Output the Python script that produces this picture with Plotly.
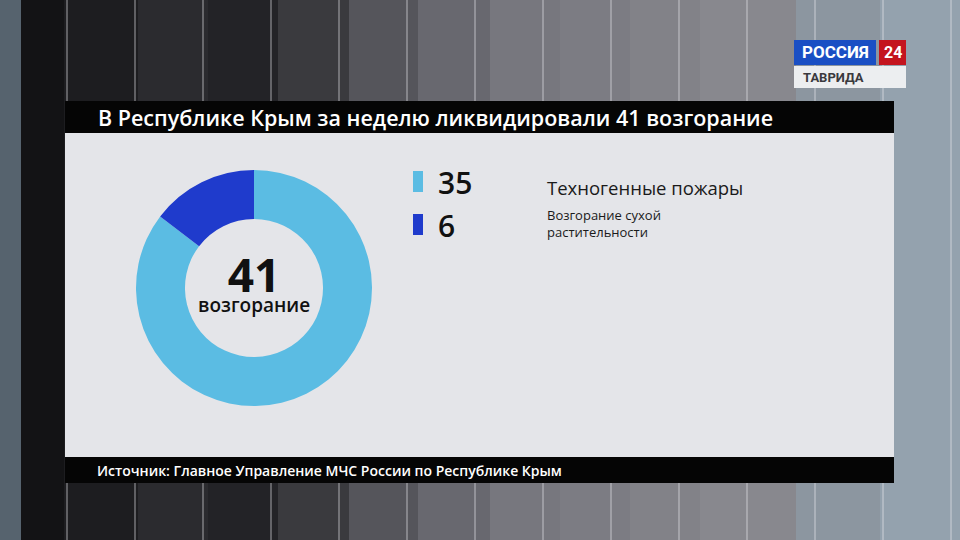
import plotly.graph_objects as go

# ---- data ----
categories = ["Техногенные пожары", "Возгорание сухой растительности"]
values = [35, 6]
colors = ["#5bbce3", "#1f3bcc"]
total = sum(values)
title_text = "В Республике Крым за неделю ликвидировали 41 возгорание"
center_label = "возгорание"
source_text = "Источник: Главное Управление МЧС России по Республике Крым"

W, H = 960, 540
FONT = "Open Sans, Noto Sans, DejaVu Sans, sans-serif"

def px(x):
    return x / W

def py(y):
    return 1 - y / H

shapes = []
annotations = []

# ---- background stripes (decoration) ----
stripes = [
    (0, 21, "#56636e"), (21, 64, "#131315"), (64, 138, "#1d1d20"),
    (138, 208, "#2b2b2f"), (208, 278, "#232327"), (278, 349, "#3a3a3e"),
    (349, 418, "#55555b"), (418, 490, "#68686f"), (490, 560, "#77777e"),
    (560, 630, "#7c7c83"), (630, 700, "#828288"), (700, 796, "#88888e"),
    (796, 880, "#8c96a0"), (880, 960, "#94a2ae"),
]
for x0, x1, c in stripes:
    shapes.append(dict(type="rect", xref="paper", yref="paper", layer="below",
                       x0=px(x0), x1=px(x1), y0=0, y1=1, fillcolor=c, line_width=0))
for i in range(14):
    xl = 67 + 68 * i
    shapes.append(dict(type="line", xref="paper", yref="paper", layer="below",
                       x0=px(xl), x1=px(xl), y0=0, y1=1,
                       line=dict(color="rgba(235,235,240,0.55)", width=1.2)))

# title bar, panel, footer bar
shapes.append(dict(type="rect", xref="paper", yref="paper", layer="below",
                   x0=px(65), x1=px(894), y0=py(133), y1=py(101),
                   fillcolor="#050505", line_width=0))
shapes.append(dict(type="rect", xref="paper", yref="paper", layer="below",
                   x0=px(65), x1=px(894), y0=py(457), y1=py(133),
                   fillcolor="#e4e5e9", line_width=0))
shapes.append(dict(type="rect", xref="paper", yref="paper", layer="below",
                   x0=px(65), x1=px(894), y0=py(483), y1=py(457),
                   fillcolor="#050505", line_width=0))

annotations.append(dict(xref="paper", yref="paper", x=px(96), y=py(117),
                        xanchor="left", yanchor="middle", showarrow=False,
                        text=title_text,
                        font=dict(family=FONT, size=21.5, weight=600, color="white")))
annotations.append(dict(xref="paper", yref="paper", x=px(95), y=py(470),
                        xanchor="left", yanchor="middle", showarrow=False,
                        text=source_text,
                        font=dict(family=FONT, size=14, weight=600, color="white")))

# logo
shapes.append(dict(type="rect", xref="paper", yref="paper", layer="below",
                   x0=px(794), x1=px(876), y0=py(65), y1=py(40),
                   fillcolor="#1a4fc4", line_width=0))
shapes.append(dict(type="rect", xref="paper", yref="paper", layer="below",
                   x0=px(879), x1=px(906), y0=py(65), y1=py(40),
                   fillcolor="#c4141e", line_width=0))
shapes.append(dict(type="rect", xref="paper", yref="paper", layer="below",
                   x0=px(794), x1=px(906), y0=py(88), y1=py(66),
                   fillcolor="#eceef0", line_width=0))
annotations.append(dict(xref="paper", yref="paper", x=px(835), y=py(52.5),
                        xanchor="center", yanchor="middle", showarrow=False,
                        text="<b>РОССИЯ</b>",
                        font=dict(family="Roboto, sans-serif", size=17, color="white")))
annotations.append(dict(xref="paper", yref="paper", x=px(892.5), y=py(52.5),
                        xanchor="center", yanchor="middle", showarrow=False,
                        text="<b>24</b>",
                        font=dict(family="Roboto, sans-serif", size=16, color="white")))
annotations.append(dict(xref="paper", yref="paper", x=px(801), y=py(77),
                        xanchor="left", yanchor="middle", showarrow=False,
                        text="<b>ТАВРИДА</b>",
                        font=dict(family="Roboto, sans-serif", size=13, color="#3a3a3e")))

# center label (single annotation, two lines with tight spacing)
annotations.append(dict(xref="paper", yref="paper", x=px(254), y=py(280),
                        xanchor="center", yanchor="middle", showarrow=False,
                        text=("<b><span style='font-size:46px'>%d</span></b><br>"
                              "<span style='font-size:19px;font-weight:600'>%s</span>")
                             % (total, center_label),
                        font=dict(family=FONT, size=15, color="#111111")))

# custom legend
sq_y = [(171, 192), (214, 235)]
num_y = [182, 225]
for idx in range(len(values)):
    y0, y1 = sq_y[idx]
    shapes.append(dict(type="rect", xref="paper", yref="paper",
                       x0=px(413), x1=px(423), y0=py(y1), y1=py(y0),
                       fillcolor=colors[idx], line_width=0))
    annotations.append(dict(xref="paper", yref="paper", x=px(436), y=py(num_y[idx]),
                            xanchor="left", yanchor="middle", showarrow=False,
                            text=str(values[idx]),
                            font=dict(family=FONT, size=30, weight=600, color="#111111")))
    name = categories[idx]
    if idx == 0:
        annotations.append(dict(xref="paper", yref="paper", x=px(545), y=py(187),
                                xanchor="left", yanchor="middle", showarrow=False,
                                text=name,
                                font=dict(family=FONT, size=18.5, color="#1a1a1a")))
    else:
        parts = name.split(" ")
        annotations.append(dict(xref="paper", yref="paper", x=px(545), y=py(224),
                                xanchor="left", yanchor="middle", showarrow=False,
                                align="left",
                                text=" ".join(parts[:2]) + "<br>" + " ".join(parts[2:]),
                                font=dict(family=FONT, size=13, color="#1a1a1a")))

fig = go.Figure(go.Pie(
    labels=categories, values=values, sort=False, direction="clockwise",
    rotation=0, hole=0.585, marker=dict(colors=colors, line=dict(width=0)),
    textinfo="none", hoverinfo="skip", showlegend=False,
    domain=dict(x=[px(136), px(372)], y=[py(406), py(170)]),
))

fig.update_layout(
    width=W, height=H, margin=dict(l=0, r=0, t=0, b=0),
    paper_bgcolor="#3a3a3e", plot_bgcolor="rgba(0,0,0,0)",
    shapes=shapes, annotations=annotations, showlegend=False,
)
fig.write_html("out.html", config={"displayModeBar": False},
               post_script="document.body.style.margin='0';document.body.style.overflow='hidden';")
